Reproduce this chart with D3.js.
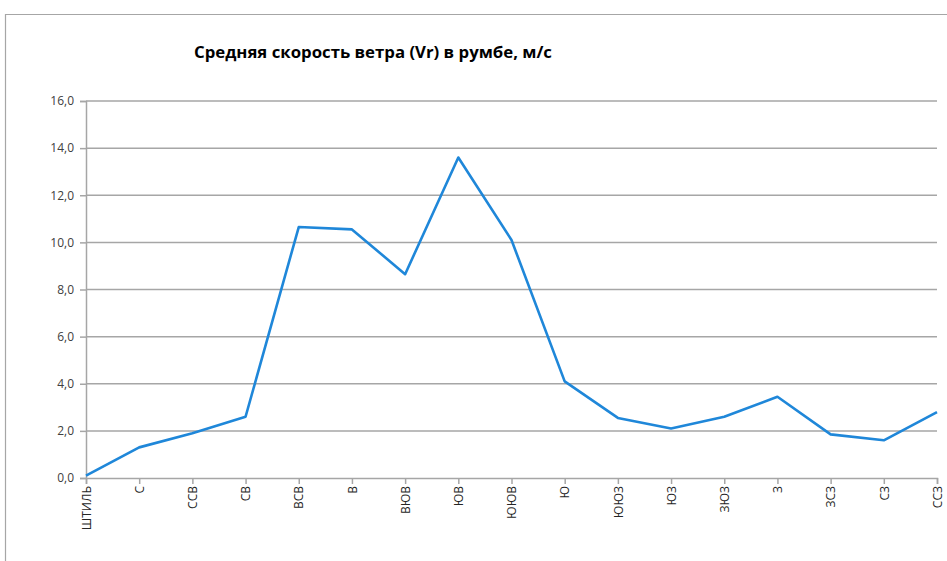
<!DOCTYPE html>
<html>
<head>
<meta charset="utf-8">
<script src="https://cdn.jsdelivr.net/npm/d3@7"></script>
<style>
  body { margin: 0; background: #fff; }
  svg { display: block; }
</style>
</head>
<body>
<script>
const categories = ['ШТИЛЬ', 'С', 'ССВ', 'СВ', 'ВСВ', 'В', 'ВЮВ', 'ЮВ', 'ЮЮВ', 'Ю', 'ЮЮЗ', 'ЮЗ', 'ЗЮЗ', 'З', 'ЗСЗ', 'СЗ', 'ССЗ'];
const speeds = [0.1, 1.3, 1.9, 2.6, 10.65, 10.55, 8.65, 13.6, 10.1, 4.1, 2.55, 2.1, 2.6, 3.45, 1.85, 1.6, 2.8];
const yTicks = [0, 2, 4, 6, 8, 10, 12, 14, 16];
const title = 'Средняя скорость ветра (Vr) в румбе, м/с';

const W = 947, H = 561;
const margin = { top: 101, right: 10, bottom: 83, left: 86 };
const width = W - margin.left - margin.right;
const height = H - margin.top - margin.bottom;

const svg = d3.select('body').append('svg')
  .attr('width', W)
  .attr('height', H);

// chart frame
svg.append('path')
  .attr('d', `M5.5,${H} V14.5 H${W}`)
  .attr('fill', 'none')
  .attr('stroke', '#a6a6a6')
  .attr('stroke-width', 1.2);

svg.append('text')
  .attr('x', 373)
  .attr('y', 58)
  .attr('text-anchor', 'middle')
  .style('font-family', 'Open Sans, sans-serif')
  .style('font-weight', 'bold')
  .style('font-size', '15.5px')
  .attr('textLength', 358)
  .attr('lengthAdjust', 'spacingAndGlyphs')
  .text(title);

const g = svg.append('g')
  .attr('transform', `translate(${margin.left},${margin.top})`);

const x = d3.scalePoint()
  .domain(categories)
  .range([0, width]);

const y = d3.scaleLinear()
  .domain([0, 16])
  .range([height, 0]);

// grid
g.append('g')
  .selectAll('line')
  .data(yTicks.slice(1))
  .enter()
  .append('line')
  .attr('x1', 0)
  .attr('x2', width)
  .attr('y1', d => y(d))
  .attr('y2', d => y(d))
  .attr('stroke', '#a6a6a6')
  .attr('stroke-width', 1.5);

const yAxis = g.append('g')
  .call(d3.axisLeft(y).tickValues(yTicks).tickSize(6).tickPadding(6)
    .tickFormat(d => d3.format('.1f')(d).replace('.', ',')));

const xAxis = g.append('g')
  .attr('transform', `translate(0,${height})`)
  .call(d3.axisBottom(x).tickSize(6).tickPadding(8));

[yAxis, xAxis].forEach(a => {
  a.select('.domain').attr('stroke', '#a6a6a6').attr('stroke-width', 1.5);
  a.selectAll('.tick line').attr('stroke', '#a6a6a6').attr('stroke-width', 1.5);
  a.selectAll('text')
    .style('font-family', 'Open Sans, sans-serif')
    .style('font-size', '12px')
    .attr('fill', '#404040');
});

xAxis.selectAll('text')
  .attr('transform', 'rotate(-90)')
  .attr('text-anchor', 'end')
  .attr('x', -8)
  .attr('y', 0)
  .attr('dy', '0.35em')
  .attr('fill', '#262626');

const line = d3.line()
  .x((d, i) => x(categories[i]))
  .y(d => y(d));

g.append('path')
  .datum(speeds)
  .attr('fill', 'none')
  .attr('stroke', '#1f87d9')
  .attr('stroke-width', 2.6)
  .attr('stroke-linejoin', 'round')
  .attr('d', line);
</script>
</body>
</html>
